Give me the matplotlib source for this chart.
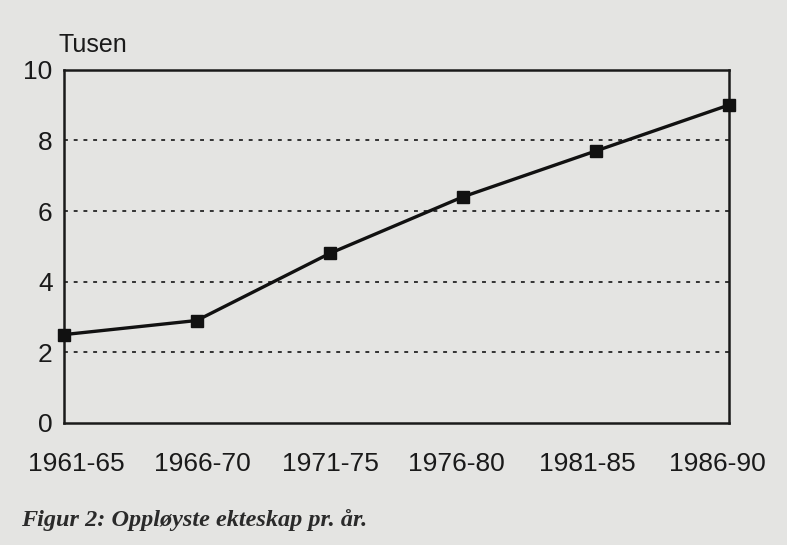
import matplotlib
matplotlib.use("Agg")
import matplotlib.pyplot as plt
import matplotlib.transforms as mtransforms

periods = ["1961-65", "1966-70", "1971-75", "1976-80", "1981-85", "1986-90"]
values = [2.5, 2.9, 4.8, 6.4, 7.7, 9.0]
yticks = [0, 2, 4, 6, 8, 10]

bg = "#e4e4e2"
fig = plt.figure(figsize=(7.87, 5.45), dpi=100, facecolor=bg)
ax = fig.add_axes([0.081, 0.224, 0.845, 0.648], facecolor=bg)

x = list(range(len(periods)))
ax.plot(x, values, color="#111111", lw=2.4, marker="s", ms=9, clip_on=False, zorder=3)

ax.set_xlim(0, len(periods) - 1)
ax.set_ylim(0, 10)
ax.set_yticks(yticks)
ax.set_yticklabels([str(v) for v in yticks], fontsize=19, family="Liberation Sans")
ax.set_xticks(x)
ax.set_xticklabels(periods, fontsize=19, family="Liberation Sans")
ax.tick_params(length=0, pad=8, colors="#1a1a1a")
ax.tick_params(axis="x", pad=21)

# nudge outer labels slightly inward, as in the printed figure
shifts = [13, 6, 1, -6, -8, -11]
for lab, dx in zip(ax.get_xticklabels(), shifts):
    lab.set_transform(lab.get_transform() + mtransforms.ScaledTranslation(dx / 100, 0, fig.dpi_scale_trans))

for g in [2, 4, 6, 8]:
    ax.axhline(g, color="#333333", lw=1.4, ls=(0, (2, 3)), zorder=1)
for s in ax.spines.values():
    s.set_color("#1a1a1a")
    s.set_linewidth(1.8)

fig.text(0.074, 0.895, "Tusen", fontsize=18, family="Liberation Sans", color="#1a1a1a", ha="left", va="bottom")
fig.text(0.027, 0.025, "Figur 2: Oppløyste ekteskap pr. år.", fontsize=17.5, family="Liberation Serif",
         style="italic", weight="bold", color="#2a2a2a", ha="left", va="bottom")

fig.savefig("out.png", dpi=100, facecolor=bg)
